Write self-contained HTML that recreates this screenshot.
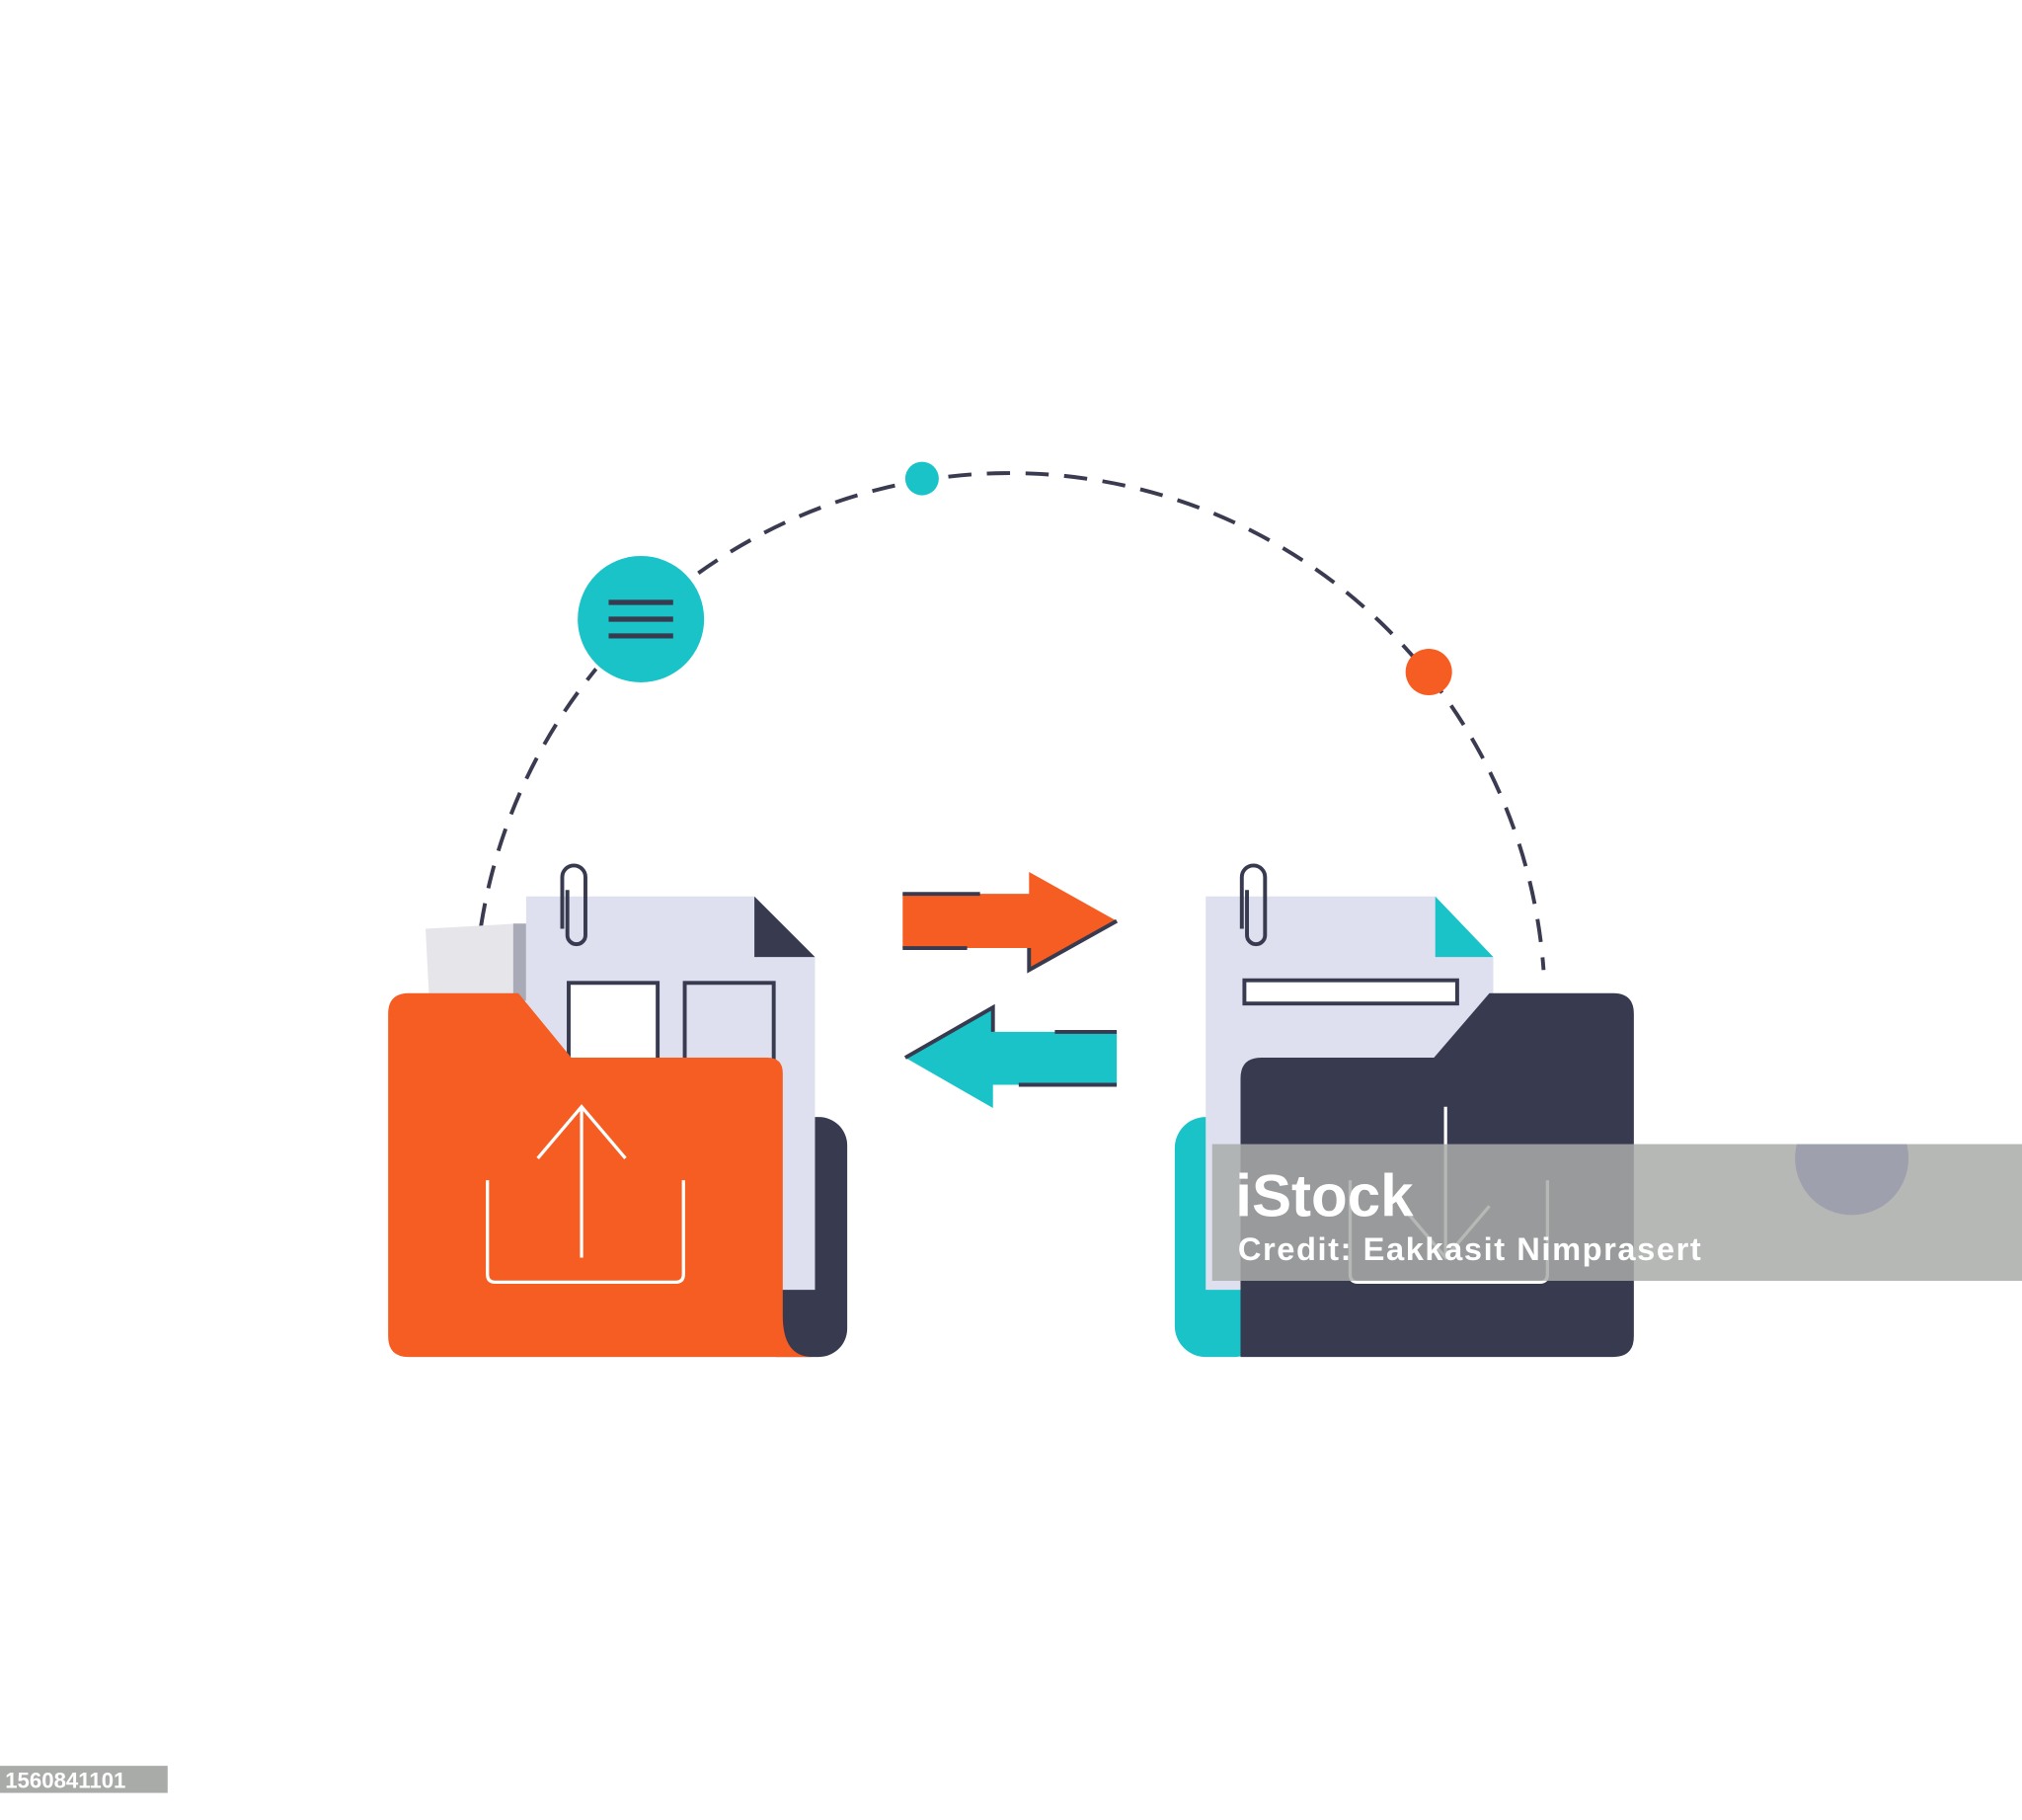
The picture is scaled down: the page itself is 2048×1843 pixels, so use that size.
<!DOCTYPE html>
<html><head><meta charset="utf-8"><style>
html,body{margin:0;padding:0;background:#fff;width:2048px;height:1843px;overflow:hidden}
svg{display:block}
text{font-family:"Liberation Sans",sans-serif}
</style></head><body>
<svg width="2048" height="1843" viewBox="0 0 1568 1411" preserveAspectRatio="none" xmlns="http://www.w3.org/2000/svg">
<defs><clipPath id="band"><rect x="940" y="887" width="628" height="106"/></clipPath></defs>
<rect width="1568" height="1411" fill="#fff"/>
<path d="M373 718 A415 415 0 0 1 1197 752" fill="none" stroke="#3a3b50" stroke-width="3" stroke-dasharray="18 12"/>
<circle cx="497" cy="480" r="52" fill="#fff"/>
<circle cx="497" cy="480" r="49" fill="#19c3c8"/>
<g stroke="#383a4f" stroke-width="4"><line x1="472" y1="467" x2="522" y2="467"/><line x1="472" y1="480" x2="522" y2="480"/><line x1="472" y1="493" x2="522" y2="493"/></g>
<circle cx="715" cy="371" r="13" fill="#19c3c8"/>
<circle cx="1108" cy="521" r="18" fill="#f55d22"/>

<rect x="580" y="866" width="77" height="186" rx="22" fill="#383a4f"/>
<polygon points="330,720 402,716 405,775 333,778" fill="#e6e6ea"/>
<rect x="398" y="716" width="10" height="60" fill="#a9aab8"/>
<polygon points="408,695 585,695 632,742 632,1000 408,1000" fill="#dfe0ef"/>
<polygon points="585,695 632,742 585,742" fill="#383a4f"/>
<rect x="441" y="762" width="69" height="70" fill="#fff" stroke="#383a4f" stroke-width="3"/>
<rect x="531" y="762" width="69" height="70" fill="none" stroke="#383a4f" stroke-width="3"/>
<path d="M436 720 V680 a9 9 0 0 1 18 0 V725 a7 7 0 0 1 -14 0 V690" fill="none" stroke="#383a4f" stroke-width="3"/>
<path d="M317 770 H402 L443 820 H595 Q607 820 607 832 V1020 Q607 1052 630 1052 H317 Q301 1052 301 1036 V786 Q301 770 317 770 Z" fill="#f55d22"/>
<g fill="none" stroke="#fff" stroke-width="2.5">
<path d="M378 915 V988 Q378 994 384 994 H524 Q530 994 530 988 V915"/>
<line x1="451" y1="975" x2="451" y2="858"/>
<path d="M417 898 L451 858 L485 898"/>
</g>

<polygon points="700,693 798,693 798,676 866,714 798,752 798,735 700,735" fill="#f55d22"/>
<g stroke="#383a4f" stroke-width="3" fill="none"><line x1="700" y1="693" x2="760" y2="693"/><line x1="700" y1="735" x2="750" y2="735"/><path d="M798 735 V752 L866 714"/></g>
<polygon points="702,820 770,781 770,800 866,800 866,841 770,841 770,859" fill="#19c3c8"/>
<g stroke="#383a4f" stroke-width="3" fill="none"><line x1="818" y1="800" x2="866" y2="800"/><line x1="790" y1="841" x2="866" y2="841"/><path d="M702 820 L770 781 V800"/></g>

<rect x="911" y="866" width="70" height="186" rx="24" fill="#19c3c8"/>
<polygon points="935,695 1113,695 1158,742 1158,1000 935,1000" fill="#dfe0ef"/>
<polygon points="1113,695 1158,742 1113,742" fill="#19c3c8"/>
<rect x="965" y="760" width="165" height="18" fill="#fff" stroke="#383a4f" stroke-width="3"/>
<path d="M963 720 V680 a9 9 0 0 1 18 0 V725 a7 7 0 0 1 -14 0 V690" fill="none" stroke="#383a4f" stroke-width="3"/>
<path d="M978 820 H1112 L1155 770 H1251 Q1267 770 1267 786 V1036 Q1267 1052 1251 1052 H962 V836 Q962 820 978 820 Z" fill="#383a4f"/>
<g fill="none" stroke="#fff" stroke-width="2.5">
<path d="M1047 915 V988 Q1047 994 1053 994 H1194 Q1200 994 1200 988 V915"/>
<line x1="1121" y1="858" x2="1121" y2="975"/>
<path d="M1087 935 L1121 975 L1155 935"/>
</g>

<rect x="940" y="887" width="628" height="106" fill="#a9aba9" opacity="0.85"/>
<circle cx="1436" cy="898" r="44" fill="#8f8fa6" opacity="0.6" clip-path="url(#band)"/>
<text x="958" y="943" font-size="46" font-weight="bold" fill="#fff">iStock</text>
<text x="960" y="977" font-size="25" font-weight="bold" fill="#fff" letter-spacing="1.2">Credit: Eakkasit Nimprasert</text>
<rect x="0" y="1369" width="130" height="21" fill="#a9aba9"/>
<text x="4" y="1386" font-size="17" font-weight="bold" fill="#fff">1560841101</text>
</svg>
</body></html>
